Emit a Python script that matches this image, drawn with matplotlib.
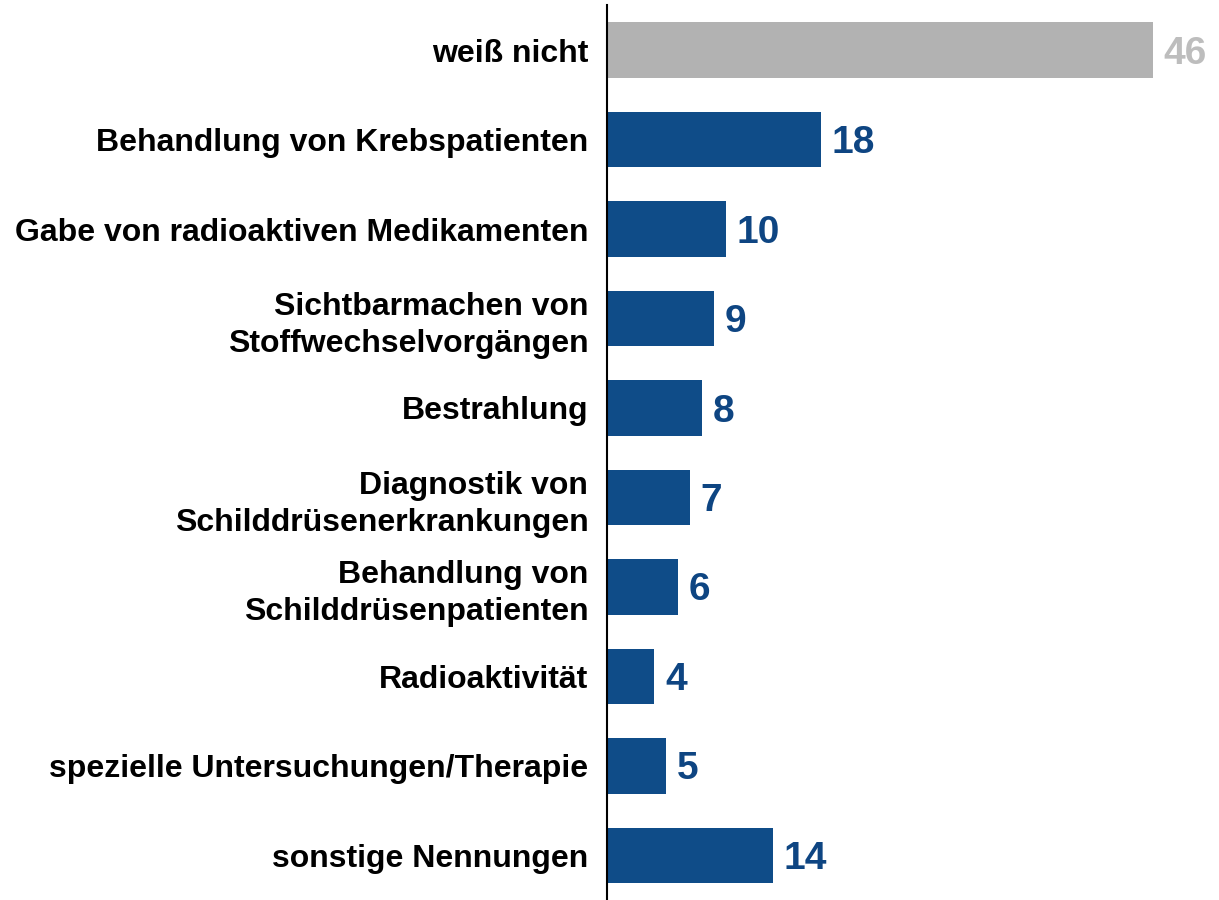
import matplotlib.pyplot as plt

categories = [
    'weiß nicht',
    'Behandlung von Krebspatienten',
    'Gabe von radioaktiven Medikamenten',
    'Sichtbarmachen von\nStoffwechselvorgängen',
    'Bestrahlung',
    'Diagnostik von\nSchilddrüsenerkrankungen',
    'Behandlung von\nSchilddrüsenpatienten',
    'Radioaktivität',
    'spezielle Untersuchungen/Therapie',
    'sonstige Nennungen',
]
values = [46, 18, 10, 9, 8, 7, 6, 4, 5, 14]

blue = '#0F4C88'
grey = '#B2B2B2'
bar_colors = [grey] + [blue] * (len(values) - 1)
text_colors = ['#BDBDBD'] + ['#0E4582'] * (len(values) - 1)

plt.rcParams['font.family'] = ['Liberation Sans', 'DejaVu Sans']

fig = plt.figure(figsize=(12.19, 9), dpi=100)
ax = fig.add_axes([0.498, 0.0, 0.502, 0.994])

pos = list(range(len(values)))
ax.barh(pos, values, height=0.62, color=bar_colors)

for i, v in enumerate(values):
    ax.text(v + 0.9, i + 0.04, str(v), va='center', ha='left', fontsize=28,
            fontweight='bold', color=text_colors[i])

ax.set_yticks(pos)
ax.set_yticklabels(categories, fontsize=23, fontweight='bold',
                   linespacing=1.3)
ax.tick_params(axis='y', length=0, pad=13.5)
ax.set_xticks([])
ax.set_xlim(0, 51.6)
ax.set_ylim(len(values) - 0.5, -0.5)

for s in ['top', 'right', 'bottom']:
    ax.spines[s].set_visible(False)
ax.spines['left'].set_linewidth(1.5)

fig.savefig('out.png', dpi=100)
